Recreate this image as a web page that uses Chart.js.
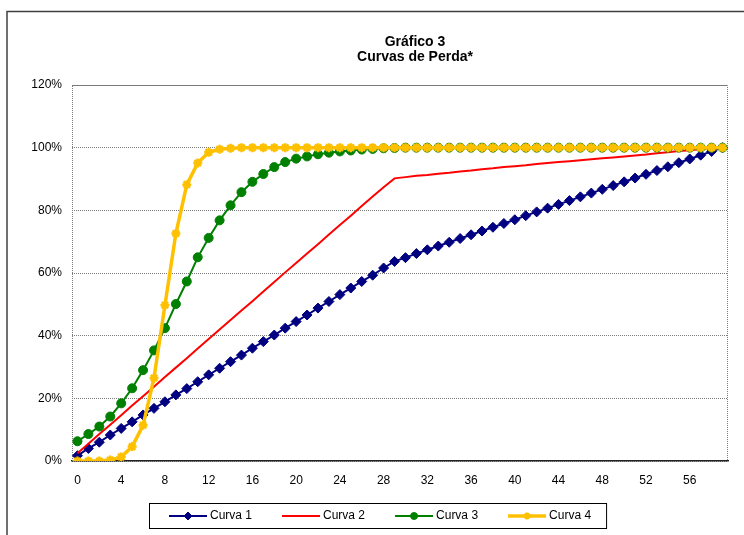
<!DOCTYPE html>
<html>
<head>
<meta charset="utf-8">
<title>Gráfico 3 - Curvas de Perda</title>
<script src="https://cdn.jsdelivr.net/npm/chart.js@4.4.1/dist/chart.umd.min.js"></script>
<style>
    html, body { margin: 0; padding: 0; background: #fff; }
    #wrap { position: relative; width: 744px; height: 535px; }
</style>
</head>
<body>
<div id="wrap"><canvas id="lossChart" width="744" height="535"></canvas></div>
<script>
// --- Data ---
const titleLines = ['Gráfico 3', 'Curvas de Perda*'];

const periods = [
    '0', '1', '2', '3', '4', '5', '6', '7', '8', '9',
    '10', '11', '12', '13', '14', '15', '16', '17', '18', '19',
    '20', '21', '22', '23', '24', '25', '26', '27', '28', '29',
    '30', '31', '32', '33', '34', '35', '36', '37', '38', '39',
    '40', '41', '42', '43', '44', '45', '46', '47', '48', '49',
    '50', '51', '52', '53', '54', '55', '56', '57', '58', '59'
];
const xTickLabels = ['0', '4', '8', '12', '16', '20', '24', '28', '32', '36', '40', '44', '48', '52', '56'];
const yTicks = [0, 20, 40, 60, 80, 100, 120];

const seriesNames = ['Curva 1', 'Curva 2', 'Curva 3', 'Curva 4'];

// valores em %
const curva1 = [
    1.7, 4.0, 6.0, 8.3, 10.4, 12.5, 14.7, 16.8, 18.9, 21.1,
    23.1, 25.3, 27.5, 29.6, 31.7, 33.8, 36.0, 38.1, 40.2, 42.4,
    44.5, 46.6, 48.8, 50.9, 53.1, 55.2, 57.3, 59.3, 61.6, 63.7,
    64.9, 66.2, 67.4, 68.6, 69.8, 71.0, 72.2, 73.4, 74.6, 75.8,
    77.0, 78.3, 79.5, 80.7, 81.9, 83.1, 84.3, 85.5, 86.7, 87.9,
    89.1, 90.3, 91.5, 92.7, 93.9, 95.2, 96.4, 97.6, 98.8, 100.0
];
const curva2 = [
    2.5, 5.5, 8.6, 11.6, 14.6, 17.7, 20.7, 23.7, 26.8, 29.8,
    32.8, 35.9, 38.9, 42.0, 45.0, 48.0, 51.0, 54.1, 57.1, 60.2,
    63.2, 66.2, 69.2, 72.3, 75.3, 78.3, 81.4, 84.4, 87.4, 90.2,
    90.6, 91.0, 91.3, 91.7, 92.0, 92.4, 92.7, 93.1, 93.4, 93.8,
    94.1, 94.4, 94.8, 95.1, 95.4, 95.7, 96.0, 96.3, 96.6, 96.9,
    97.2, 97.5, 97.8, 98.2, 98.5, 98.9, 99.2, 99.6, 99.9, 100.0
];
const curva3 = [
    6.3, 8.6, 11.0, 14.2, 18.4, 23.2, 29.0, 35.3, 42.4, 50.1,
    57.3, 65.0, 71.2, 76.8, 81.6, 85.8, 89.1, 91.6, 93.8, 95.4,
    96.5, 97.2, 97.9, 98.4, 98.8, 99.1, 99.4, 99.6, 99.8, 99.9,
    100, 100, 100, 100, 100, 100, 100, 100, 100, 100,
    100, 100, 100, 100, 100, 100, 100, 100, 100, 100,
    100, 100, 100, 100, 100, 100, 100, 100, 100, 100
];
const curva4 = [
    0, 0, 0, 0.3, 1.3, 4.6, 11.4, 26.5, 49.7, 72.6,
    88.2, 95.1, 98.5, 99.5, 99.8, 100, 100, 100, 100, 100,
    100, 100, 100, 100, 100, 100, 100, 100, 100, 100,
    100, 100, 100, 100, 100, 100, 100, 100, 100, 100,
    100, 100, 100, 100, 100, 100, 100, 100, 100, 100,
    100, 100, 100, 100, 100, 100, 100, 100, 100, 100
];

// --- Styles ---
const FONT = '"Liberation Sans", Arial, sans-serif';
Chart.defaults.font.family = FONT;
Chart.defaults.font.size = 12;
Chart.defaults.color = '#000';

const datasets = [
    { label: seriesNames[0], data: curva1, borderColor: '#000080', backgroundColor: '#000080',
      borderWidth: 2, pointStyle: 'rectRot', pointRadius: 5, pointBorderWidth: 1, order: 4 },
    { label: seriesNames[1], data: curva2, borderColor: '#ff0000', backgroundColor: '#ff0000',
      borderWidth: 2, pointRadius: 0, order: 3 },
    { label: seriesNames[2], data: curva3, borderColor: '#008000', backgroundColor: '#008000',
      borderWidth: 2, pointStyle: 'circle', pointRadius: 4.5, pointBorderWidth: 1, order: 2 },
    { label: seriesNames[3], data: curva4, borderColor: '#ffc000', backgroundColor: '#ffc000',
      borderWidth: 3.5, pointStyle: 'star', pointRadius: 4.5, pointBorderWidth: 2.5, order: 1 }
];

// moldura, titulo e legenda desenhados a mao
const decorPlugin = {
    id: 'decor',
    beforeDatasetsDraw(chart) {
        const ctx = chart.ctx;
        const a = chart.chartArea;
        ctx.save();
        ctx.strokeStyle = '#7a7a7a';
        ctx.lineWidth = 1;
        ctx.setLineDash([1, 1]);
        ctx.beginPath();
        ctx.moveTo(a.left + 0.5, a.bottom);
        ctx.lineTo(a.left + 0.5, a.top + 0.5);
        ctx.lineTo(a.right - 0.5, a.top + 0.5);
        ctx.lineTo(a.right - 0.5, a.bottom);
        ctx.stroke();
        ctx.restore();
    },
    afterDraw(chart) {
        const ctx = chart.ctx;
        ctx.save();

        // outer chart frame
        ctx.strokeStyle = '#404040';
        ctx.lineWidth = 1.5;
        ctx.beginPath();
        ctx.moveTo(7, 535);
        ctx.lineTo(7, 11.5);
        ctx.lineTo(744, 11.5);
        ctx.stroke();

        // title
        ctx.fillStyle = '#000';
        ctx.font = 'bold 14px ' + FONT;
        ctx.textAlign = 'center';
        ctx.textBaseline = 'middle';
        titleLines.forEach((t, i) => ctx.fillText(t, 415, 42 + i * 15));

        // legend
        ctx.font = '12px ' + FONT;
        const lineLen = 38, gapText = 3, gapItem = 30, padL = 20, padR = 15;
        const widths = chart.data.datasets.map(d => ctx.measureText(d.label).width);
        let total = padL + padR;
        widths.forEach((w, i) => { total += lineLen + gapText + w + (i < widths.length - 1 ? gapItem : 0); });
        const boxTop = 503, boxH = 25, boxLeft = Math.round(378 - total / 2);
        ctx.strokeStyle = '#000';
        ctx.lineWidth = 1;
        ctx.strokeRect(boxLeft + 0.5, boxTop + 0.5, total, boxH);

        const cy = boxTop + boxH / 2 + 0.5;
        let x = boxLeft + padL;
        chart.data.datasets.forEach((d, i) => {
            ctx.strokeStyle = d.borderColor;
            ctx.lineWidth = d.borderWidth;
            ctx.beginPath();
            ctx.moveTo(x, cy);
            ctx.lineTo(x + lineLen, cy);
            ctx.stroke();
            if (d.pointRadius > 0) {
                ctx.fillStyle = d.backgroundColor;
                ctx.lineWidth = d.pointBorderWidth;
                Chart.helpers.drawPoint(ctx, {
                    pointStyle: d.pointStyle, radius: d.pointRadius - 1,
                    rotation: 0, borderWidth: d.pointBorderWidth
                }, x + lineLen / 2, cy);
            }
            ctx.fillStyle = '#000';
            ctx.textAlign = 'left';
            ctx.fillText(d.label, x + lineLen + gapText, cy);
            x += lineLen + gapText + widths[i] + gapItem;
        });
        ctx.restore();
    }
};

// --- Chart ---
const ctx = document.getElementById('lossChart').getContext('2d');
new Chart(ctx, {
    type: 'line',
    data: { labels: periods, datasets: datasets },
    options: {
        responsive: false,
        animation: false,
        layout: { padding: { top: 85, right: 16, left: 0, bottom: 0 } },
        elements: { line: { tension: 0 } },
        plugins: {
            legend: { display: false },
            title: { display: false },
            tooltip: { enabled: false }
        },
        scales: {
            x: {
                offset: true,
                grid: { display: false, drawTicks: false },
                border: { display: true, color: '#222', width: 1.5 },
                ticks: {
                    autoSkip: false,
                    maxRotation: 0,
                    padding: 12,
                    callback: function (v) {
                        const lab = this.getLabelForValue(v);
                        return xTickLabels.includes(lab) ? lab : '';
                    }
                },
                afterFit: s => { s.height = 74; }
            },
            y: {
                min: yTicks[0],
                max: yTicks[yTicks.length - 1],
                afterBuildTicks: s => { s.ticks = yTicks.map(v => ({ value: v })); },
                grid: { color: '#7a7a7a', lineWidth: 1, drawTicks: false },
                border: { display: false, dash: [1, 1] },
                ticks: { padding: 10, callback: v => v + '%' },
                afterFit: s => { s.width = 72; }
            }
        }
    },
    plugins: [decorPlugin]
});
</script>
</body>
</html>
